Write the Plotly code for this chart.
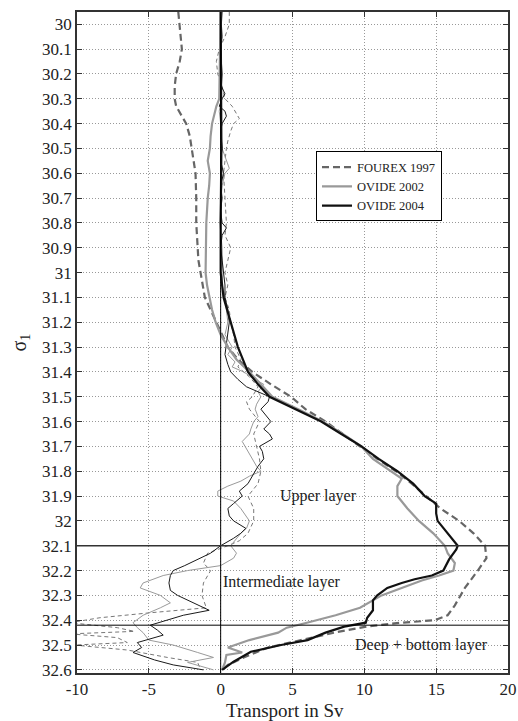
import plotly.graph_objects as go

# ---------------- data (sigma_1, transport in Sv) ----------------
fourex_sigma = [29.95, 30.0, 30.05, 30.1, 30.15, 30.2, 30.25, 30.3, 30.33, 30.37, 30.4, 30.45, 30.5, 30.55,
                30.6, 30.7, 30.8, 30.9, 30.95, 31.0, 31.05, 31.1, 31.15, 31.2, 31.25, 31.3, 31.35, 31.4,
                31.45, 31.5, 31.55, 31.6, 31.65, 31.7, 31.75, 31.8, 31.85, 31.9, 31.95, 32.0, 32.05, 32.1,
                32.15, 32.2, 32.27, 32.34, 32.38, 32.4, 32.41, 32.425, 32.45, 32.48, 32.51, 32.55, 32.58, 32.6]
fourex_sv = [-2.95, -2.85, -2.75, -2.7, -2.85, -3.1, -3.2, -3.2, -3.1, -2.7, -2.4, -2.15, -2.0, -1.9,
             -1.75, -1.7, -1.7, -1.6, -1.55, -1.4, -1.25, -1.1, -0.7, -0.3, 0.1, 0.5, 1.2, 2.2,
             3.5, 4.9, 5.9, 7.3, 8.5, 9.7, 10.9, 12.2, 13.3, 14.3, 15.3, 16.6, 17.6, 18.4,
             18.5, 17.9, 17.0, 16.3, 15.8, 14.9, 12.6, 10.2, 7.9, 5.6, 3.3, 1.6, 0.5, 0.1]

ovide02_sigma = [29.95, 30.1, 30.2, 30.3, 30.33, 30.4, 30.45, 30.5, 30.55, 30.6, 30.65, 30.7, 30.8, 30.9,
                 31.0, 31.05, 31.1, 31.15, 31.2, 31.25, 31.3, 31.35, 31.4, 31.45, 31.5, 31.55, 31.6, 31.65,
                 31.7, 31.75, 31.8, 31.83, 31.86, 31.9, 31.95, 32.0, 32.05, 32.1, 32.13, 32.17, 32.2, 32.22,
                 32.24, 32.265, 32.3, 32.35, 32.38, 32.41, 32.43, 32.45, 32.48, 32.51, 32.53, 32.54, 32.57, 32.6]
ovide02_sv = [0.0, -0.05, -0.05, -0.1, -0.3, -0.6, -0.7, -0.75, -0.9, -0.75, -0.8, -0.9, -1.0, -1.05,
              -1.05, -0.95, -0.8, -0.6, -0.35, 0.0, 0.5, 1.1, 2.0, 2.8, 3.6, 5.4, 7.1, 8.5,
              9.8, 10.6, 11.9, 12.6, 12.3, 12.3, 13.0, 13.8, 14.8, 15.6, 15.8, 16.3, 16.2, 15.2,
              14.0, 12.8, 11.2, 9.7, 8.0, 6.0, 4.6, 4.0, 2.0, 0.5, 1.5, 0.4, 0.3, 0.1]

ovide04_sigma = [29.95, 30.3, 30.5, 30.8, 31.0, 31.1, 31.2, 31.3, 31.4, 31.45, 31.5, 31.55, 31.6, 31.65,
                 31.7, 31.75, 31.8, 31.85, 31.9, 31.93, 31.97, 32.0, 32.05, 32.1, 32.115, 32.155, 32.2, 32.22,
                 32.235, 32.25, 32.27, 32.3, 32.32, 32.36, 32.39, 32.41, 32.426, 32.45, 32.48, 32.5, 32.527,
                 32.567, 32.6]
ovide04_sv = [0.0, 0.05, 0.05, 0.0, 0.0, 0.2, 0.7, 1.2, 1.9, 2.6, 3.4, 5.2, 7.0, 8.4,
              9.8, 11.0, 12.3, 13.4, 14.2, 15.0, 15.0, 15.1, 15.8, 16.5, 16.4, 15.9, 15.5, 14.7,
              13.5, 12.6, 11.6, 10.9, 10.6, 10.6, 10.2, 10.1, 8.6, 7.3, 6.05, 4.2, 2.1,
              0.9, 0.1]

fourex_thin_sigma = [29.95, 30.0, 30.05, 30.1, 30.15, 30.2, 30.25, 30.3, 30.33, 30.36, 30.38, 30.4, 30.43, 30.47,
                     30.5, 30.55, 30.6, 30.7, 30.8, 30.85, 30.9, 30.95, 31.0, 31.05, 31.1, 31.15, 31.2, 31.25,
                     31.3, 31.35, 31.38, 31.42, 31.46, 31.5, 31.52, 31.55, 31.6, 31.65, 31.7, 31.75, 31.8, 31.85,
                     31.9, 31.95, 32.0, 32.05, 32.08, 32.1, 32.13, 32.17, 32.2, 32.25, 32.3, 32.35, 32.37, 32.39,
                     32.41, 32.43, 32.445, 32.455, 32.47, 32.49, 32.5, 32.52, 32.55, 32.57, 32.6]
fourex_thin_sv = [0.6, 0.6, 0.3, -0.1, -0.3, -0.2, 0.1, 0.3, 0.8, 1.1, 1.3, 0.9, 0.7, 0.5,
                  0.4, 0.3, 0.2, 0.3, 0.4, 0.3, 0.7, 0.5, 0.3, 0.5, 0.3, 0.6, 0.7, 0.9,
                  1.0, 1.4, 1.2, 2.0, 2.6, 2.2, 1.8, 2.0, 2.7, 2.3, 2.5, 2.7, 2.8, 2.6,
                  1.9, 2.3, 2.3, 1.9, 1.3, 0.5, -0.9, -1.2, -0.7, -1.2, -1.3, -1.0, -4.9, -8.4,
                  -10.5, -7.2, -6.0, -10.5, -7.2, -6.5, -10.2, -6.5, -3.7, -1.6, -1.4]

ovide02_thin_sigma = [29.95, 30.1, 30.2, 30.3, 30.35, 30.4, 30.5, 30.55, 30.58, 30.6, 30.65, 30.7, 30.8, 30.9,
                      31.0, 31.05, 31.1, 31.15, 31.2, 31.25, 31.3, 31.33, 31.36, 31.38, 31.4, 31.43, 31.45, 31.48,
                      31.5, 31.53, 31.55, 31.58, 31.6, 31.63, 31.65, 31.68, 31.7, 31.72, 31.75, 31.78, 31.8, 31.82,
                      31.84, 31.86, 31.88, 31.9, 31.92, 31.95, 32.0, 32.03, 32.05, 32.08, 32.1, 32.13, 32.15, 32.18,
                      32.2, 32.22, 32.25, 32.27, 32.3, 32.33, 32.35, 32.38, 32.41, 32.43, 32.45, 32.48, 32.5, 32.53,
                      32.55, 32.57, 32.6]
ovide02_thin_sv = [0.0, -0.05, 0.0, 0.05, -0.1, 0.0, 0.1, 0.4, 0.6, 0.3, 0.1, 0.0, -0.05, 0.1,
                   0.15, 0.1, 0.3, 0.4, 0.5, 0.3, 0.8, 0.5, 1.0, 0.8, 1.6, 2.4, 3.0, 2.6,
                   2.8, 2.5, 2.4, 2.6, 2.3, 2.1, 2.0, 1.5, 1.7, 1.9, 2.2, 2.5, 2.8, 2.0,
                   1.4, 0.5, -0.2, -0.2, 0.9, 1.4, 2.0, 1.8, 1.4, 1.0, 0.7, 1.1, 0.9, 0.0,
                   -2.3, -4.0, -5.4, -5.6, -4.2, -3.5, -4.2, -5.4, -6.1, -5.8, -5.4, -5.0, -3.3, -1.6,
                   -0.5, -2.3, -0.5]

ovide04_thin_sigma = [29.95, 30.0, 30.05, 30.1, 30.15, 30.2, 30.25, 30.28, 30.3, 30.33, 30.35, 30.37, 30.4, 30.43,
                      30.5, 30.55, 30.6, 30.65, 30.7, 30.75, 30.8, 30.82, 30.85, 30.9, 30.95, 31.0, 31.05, 31.1,
                      31.15, 31.2, 31.25, 31.3, 31.33, 31.37, 31.4, 31.43, 31.46, 31.5, 31.52, 31.55, 31.58, 31.6,
                      31.63, 31.65, 31.67, 31.7, 31.72, 31.75, 31.78, 31.8, 31.83, 31.85, 31.88, 31.9, 31.93, 31.95,
                      31.98, 32.0, 32.03, 32.05, 32.07, 32.1, 32.13, 32.15, 32.18, 32.2, 32.22, 32.25, 32.28, 32.3,
                      32.33, 32.36, 32.38, 32.4, 32.42, 32.44, 32.46, 32.48, 32.49, 32.51, 32.53, 32.56, 32.58, 32.6]
ovide04_thin_sv = [0.1, 0.05, 0.1, 0.0, 0.05, 0.1, 0.05, 0.3, 0.1, -0.1, 0.3, 0.4, 0.1, 0.0,
                   0.1, 0.0, 0.2, 0.0, 0.1, 0.0, 0.1, 0.4, 0.1, 0.0, 0.1, 0.2, 0.3, 0.3,
                   0.5, 0.6, 0.5, 0.4, 0.3, 0.5, 0.7, 1.2, 1.8, 3.4, 3.3, 2.8, 3.2, 3.5,
                   3.0, 3.4, 3.6, 2.7, 2.9, 3.0, 2.6, 2.4, 2.1, 1.9, 1.3, 1.5, 0.9, 0.5,
                   0.6, 0.9, 1.75, 1.4, 0.9, 0.0, -0.7, -1.4, -2.5, -3.3, -3.5, -3.6, -3.5, -3.0,
                   -1.9, -0.8, -2.6, -3.8, -4.9, -4.4, -4.0, -5.2, -5.8, -5.5, -6.1, -4.6, -3.3, -1.2]

y_ticks = [30.0, 30.1, 30.2, 30.3, 30.4, 30.5, 30.6, 30.7, 30.8, 30.9, 31.0, 31.1, 31.2, 31.3,
           31.4, 31.5, 31.6, 31.7, 31.8, 31.9, 32.0, 32.1, 32.2, 32.3, 32.4, 32.5, 32.6]
y_ticktext = ["30", "30.1", "30.2", "30.3", "30.4", "30.5", "30.6", "30.7", "30.8", "30.9", "31", "31.1",
              "31.2", "31.3", "31.4", "31.5", "31.6", "31.7", "31.8", "31.9", "32", "32.1", "32.2", "32.3",
              "32.4", "32.5", "32.6"]
x_ticks = [-10, -5, 0, 5, 10, 15, 20]
x_ticktext = ["-10", "-5", "0", "5", "10", "15", "20"]
layer_bounds = [32.1, 32.42]
layer_names = ["Upper layer", "Intermediate layer", "Deep + bottom layer"]
layer_label_x = [6.8, 4.2, 14.0]
layer_label_y = [31.9, 32.245, 32.5]

FONT = "Liberation Serif"
TXT = "#222222"

fig = go.Figure()

# thin lines
fig.add_trace(go.Scatter(x=fourex_thin_sv, y=fourex_thin_sigma, mode="lines", showlegend=False,
                         line=dict(color="#777777", width=1, dash="4px,3px")))
fig.add_trace(go.Scatter(x=ovide02_thin_sv, y=ovide02_thin_sigma, mode="lines", showlegend=False,
                         line=dict(color="#9a9a9a", width=1)))
fig.add_trace(go.Scatter(x=ovide04_thin_sv, y=ovide04_thin_sigma, mode="lines", showlegend=False,
                         line=dict(color="#1a1a1a", width=1)))
# thick lines
fig.add_trace(go.Scatter(x=fourex_sv, y=fourex_sigma, mode="lines", name="FOUREX 1997",
                         line=dict(color="#666666", width=2.2, dash="7px,4px")))
fig.add_trace(go.Scatter(x=ovide02_sv, y=ovide02_sigma, mode="lines", name="OVIDE 2002",
                         line=dict(color="#999999", width=2.2)))
fig.add_trace(go.Scatter(x=ovide04_sv, y=ovide04_sigma, mode="lines", name="OVIDE 2004",
                         line=dict(color="#111111", width=2.2)))

shapes = [dict(type="line", xref="x", yref="paper", x0=0, x1=0, y0=0, y1=1,
               line=dict(color="#000000", width=1), layer="above")]
for i, b in enumerate(layer_bounds):
    shapes.append(dict(type="line", xref="paper", yref="y", x0=0, x1=1, y0=b, y1=b,
                       line=dict(color="#333333" if i == 0 else "#000000", width=1.4 if i == 0 else 1),
                       layer="above"))

annotations = [dict(x=lx, y=ly, text=t, showarrow=False, xref="x", yref="y",
                    font=dict(family=FONT, size=16, color=TXT))
               for t, lx, ly in zip(layer_names, layer_label_x, layer_label_y)]
# axis titles
annotations.append(dict(x=0.483, y=-0.057, xref="paper", yref="paper", text="Transport in Sv",
                        showarrow=False, xanchor="center", yanchor="middle",
                        font=dict(family=FONT, size=19, color=TXT)))
annotations.append(dict(x=-0.132, y=0.5, xref="paper", yref="paper", text="σ<sub>1</sub>",
                        showarrow=False, xanchor="center", yanchor="middle", textangle=-90,
                        font=dict(family=FONT, size=20, color=TXT)))

fig.update_layout(
    width=518, height=721,
    margin=dict(l=77, r=10, t=12, b=48),
    paper_bgcolor="white", plot_bgcolor="white",
    font=dict(family=FONT, size=17, color=TXT),
    shapes=shapes, annotations=annotations,
    legend=dict(x=0.5545, y=0.789, xanchor="left", yanchor="top",
                bgcolor="white", bordercolor="#000000", borderwidth=1,
                font=dict(family=FONT, size=12.5, color=TXT),
                tracegroupgap=0, itemwidth=30),
)
fig.update_xaxes(range=[-10, 20], tickvals=x_ticks, ticktext=x_ticktext, ticks="inside", ticklen=5,
                 tickcolor="#333333", automargin=False,
                 showline=True, linecolor="#333333", linewidth=1.5, mirror="ticks",
                 showgrid=True, gridcolor="#999999", griddash="1px,2px", gridwidth=1, zeroline=False,
                 tickfont=dict(family=FONT, size=17, color=TXT))
fig.update_yaxes(range=[32.6126, 29.9505], tickvals=y_ticks, ticktext=y_ticktext, ticks="inside", ticklen=5,
                 tickcolor="#333333", automargin=False,
                 showline=True, linecolor="#333333", linewidth=1.5, mirror="ticks",
                 showgrid=True, gridcolor="#999999", griddash="1px,2px", gridwidth=1, zeroline=False,
                 tickfont=dict(family=FONT, size=17, color=TXT))

# remove the default 8px page margin so the 518x721 figure fills the window exactly
fig.write_html("out.html", config={"displayModeBar": False},
               post_script="document.body.style.margin='0';document.body.style.overflow='hidden';")
